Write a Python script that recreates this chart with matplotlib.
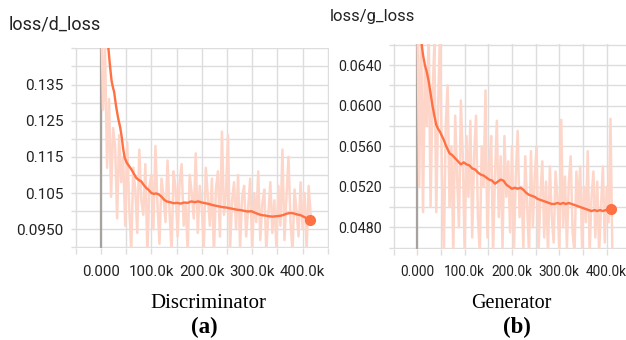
import numpy as np
import matplotlib
matplotlib.use("Agg")
import matplotlib.pyplot as plt
from matplotlib.ticker import FixedLocator, FixedFormatter, NullFormatter

# ---------------- data (steps in thousands) ----------------
raw_step_k = 4  # logging interval (thousand steps)

d_raw = [0.160, 0.128, 0.145, 0.112, 0.131, 0.104, 0.123, 0.118, 0.098, 0.121,
         0.108, 0.115, 0.096, 0.119, 0.101, 0.089, 0.112, 0.106, 0.094, 0.117,
         0.103, 0.099, 0.113, 0.088, 0.107, 0.110, 0.095, 0.118, 0.102, 0.091,
         0.109, 0.104, 0.097, 0.114, 0.100, 0.089, 0.111, 0.106, 0.093, 0.108,
         0.113, 0.096, 0.102, 0.089, 0.110, 0.105, 0.098, 0.116, 0.094, 0.107,
         0.101, 0.090, 0.112, 0.104, 0.096, 0.109, 0.088, 0.106, 0.111, 0.093,
         0.122, 0.099, 0.105, 0.121, 0.089, 0.103, 0.108, 0.095, 0.110, 0.090,
         0.104, 0.107, 0.093, 0.101, 0.109, 0.089, 0.105, 0.097, 0.111, 0.092,
         0.102, 0.106, 0.089, 0.099, 0.108, 0.094, 0.103, 0.090, 0.107, 0.096,
         0.117, 0.092, 0.104, 0.115, 0.097, 0.089, 0.106, 0.100, 0.093, 0.108,
         0.095, 0.105, 0.089, 0.107, 0.099]

d_smooth_x = [12, 15, 18, 21, 24, 26, 30, 34, 38, 41, 44, 47, 51, 55, 60, 65, 70, 75,
              80, 85, 90, 95, 100, 105, 110, 115, 120, 125, 130, 137, 144, 151, 158,
              165, 172, 179, 186, 193, 200, 207, 214, 221, 228, 235, 242, 249, 256,
              263, 270, 277, 284, 291, 298, 305, 312, 319, 326, 333, 340, 347, 354,
              361, 368, 375, 382, 389, 396, 403, 409, 414]
d_smooth_y = [0.1500, 0.1445, 0.1399, 0.1360, 0.1340, 0.1330, 0.1289, 0.1257, 0.1232,
              0.1206, 0.1172, 0.1148, 0.1134, 0.1126, 0.1116, 0.1104, 0.1092, 0.1086,
              0.1082, 0.1072, 0.1064, 0.1058, 0.1050, 0.1048, 0.1049, 0.1046, 0.1040,
              0.1032, 0.1027, 0.1025, 0.1022, 0.1023, 0.1021, 0.1024, 0.1023, 0.1027,
              0.1025, 0.1027, 0.1024, 0.1022, 0.1020, 0.1017, 0.1015, 0.1013, 0.1011,
              0.1010, 0.1008, 0.1006, 0.1004, 0.1003, 0.1001, 0.0999, 0.1000, 0.0996,
              0.0992, 0.0989, 0.0988, 0.0986, 0.0985, 0.0986, 0.0987, 0.0989, 0.0993,
              0.0995, 0.0994, 0.0991, 0.0989, 0.0984, 0.0980, 0.0976]

g_raw = [0.070, 0.052, 0.068, 0.0495, 0.064, 0.058, 0.0675, 0.050, 0.061, 0.066,
         0.0495, 0.060, 0.0675, 0.053, 0.0455, 0.058, 0.062, 0.050, 0.056, 0.0455,
         0.059, 0.053, 0.048, 0.0605, 0.055, 0.0455, 0.057, 0.051, 0.0585, 0.047,
         0.055, 0.059, 0.049, 0.0455, 0.056, 0.052, 0.0615, 0.047, 0.054, 0.057,
         0.0455, 0.053, 0.0585, 0.049, 0.055, 0.046, 0.057, 0.051, 0.0545, 0.0475,
         0.056, 0.0455, 0.053, 0.0575, 0.049, 0.052, 0.046, 0.055, 0.050, 0.0455,
         0.0555, 0.048, 0.053, 0.056, 0.0455, 0.051, 0.0545, 0.047, 0.0525, 0.0455,
         0.054, 0.049, 0.0465, 0.0535, 0.051, 0.0455, 0.0586, 0.048, 0.053, 0.046,
         0.0525, 0.055, 0.0475, 0.0455, 0.0535, 0.050, 0.054, 0.046, 0.052, 0.0485,
         0.0555, 0.0455, 0.051, 0.0535, 0.047, 0.0525, 0.0455, 0.050, 0.054, 0.0465,
         0.052, 0.0485, 0.0587, 0.0455]

g_smooth_x = [8, 12, 16, 20, 24, 28, 32, 36, 40, 44, 48, 52, 56, 60, 64, 68, 74, 80,
              86, 92, 98, 104, 110, 116, 122, 128, 134, 140, 146, 152, 158, 164, 170,
              176, 182, 188, 194, 200, 206, 212, 218, 224, 230, 236, 242, 248, 254,
              260, 266, 272, 278, 284, 290, 296, 302, 308, 314, 320, 326, 332, 338,
              344, 350, 356, 362, 368, 374, 380, 386, 392, 398, 404, 410]
g_smooth_y = [0.0665, 0.0650, 0.0640, 0.0633, 0.0624, 0.0612, 0.0600, 0.0590, 0.0581,
              0.0577, 0.0574, 0.0570, 0.0566, 0.0561, 0.0557, 0.0553, 0.0551, 0.0548,
              0.0545, 0.0542, 0.0544, 0.0542, 0.0541, 0.0538, 0.0537, 0.0534, 0.0532,
              0.0531, 0.0529, 0.0527, 0.0526, 0.0523, 0.0525, 0.0527, 0.0526, 0.0522,
              0.0520, 0.0518, 0.0519, 0.0518, 0.0519, 0.0517, 0.0514, 0.0512, 0.0511,
              0.0510, 0.0508, 0.0507, 0.0506, 0.0505, 0.0504, 0.0503, 0.0503, 0.0504,
              0.0503, 0.0504, 0.0503, 0.0504, 0.0503, 0.0502, 0.0501, 0.0500, 0.0499,
              0.0498, 0.0497, 0.0496, 0.0497, 0.0496, 0.0497, 0.0496, 0.0497, 0.0496,
              0.0498]

x_major = [0, 100, 200, 300, 400]
x_labels = ["0.000", "100.0k", "200.0k", "300.0k", "400.0k"]
x_minor = [-50, 50, 150, 250, 350, 450]

d_major = [0.095, 0.105, 0.115, 0.125, 0.135]
d_labels = ["0.0950", "0.105", "0.115", "0.125", "0.135"]
d_minor = [0.090, 0.100, 0.110, 0.120, 0.130, 0.140, 0.145]

g_major = [0.048, 0.052, 0.056, 0.060, 0.064]
g_labels = ["0.0480", "0.0520", "0.0560", "0.0600", "0.0640"]
g_minor = [0.046, 0.050, 0.054, 0.058, 0.062, 0.066]

# ---------------- style ----------------
LINE = "#ff7043"
RAW = "#fdd6c9"
GRID = "#dddddd"
ZERO = "#a8a29f"
W, H = 626, 340

fig = plt.figure(figsize=(W / 100, H / 100), dpi=100)


def px_rect(l, t, r, b):
    return [l / W, 1 - b / H, (r - l) / W, (b - t) / H]


def draw(ax, raw, sx, sy, ylim, ymaj, ylab, ymin, fs_y, fs_x):
    steps = np.arange(len(raw)) * raw_step_k
    ax.axvline(0, color=ZERO, lw=1.6, zorder=1)
    ax.plot(steps, raw, color=RAW, lw=1.8, zorder=2)
    ax.plot(sx, sy, color=LINE, lw=1.7, zorder=3)
    ax.plot([sx[-1]], [sy[-1]], "o", color=LINE, ms=7, zorder=4)
    ax.set_xlim(-52, 452)
    ax.set_ylim(*ylim)
    for s in ax.spines.values():
        s.set_visible(False)
    ax.xaxis.set_major_locator(FixedLocator(x_major))
    ax.xaxis.set_major_formatter(FixedFormatter(x_labels))
    ax.xaxis.set_minor_locator(FixedLocator(x_minor))
    ax.xaxis.set_minor_formatter(NullFormatter())
    ax.yaxis.set_major_locator(FixedLocator(ymaj))
    ax.yaxis.set_major_formatter(FixedFormatter(ylab))
    ax.yaxis.set_minor_locator(FixedLocator(ymin))
    ax.yaxis.set_minor_formatter(NullFormatter())
    ax.grid(True, which="both", color=GRID, lw=1.0, zorder=0)
    ax.set_axisbelow(True)
    for lab in ax.get_yticklabels():
        lab.set_fontfamily("Roboto")
        lab.set_fontsize(fs_y)
        lab.set_color("#222222")
    for lab in ax.get_xticklabels():
        lab.set_fontfamily("Roboto")
        lab.set_fontsize(fs_x)
        lab.set_color("#222222")
    ax.tick_params(axis="x", which="both", length=4, width=1.0, color=GRID, pad=8)
    ax.tick_params(axis="y", which="both", length=3, width=1.0, color=GRID, pad=5)


ax1 = fig.add_axes(px_rect(74.8, 47.6, 328.8, 248.1))
draw(ax1, d_raw, d_smooth_x, d_smooth_y, (0.0898, 0.1452), d_major, d_labels, d_minor, 11, 10.8)

ax2 = fig.add_axes(px_rect(392.7, 43.7, 631.3, 248.6))
draw(ax2, g_raw, g_smooth_x, g_smooth_y, (0.0459, 0.0661), g_major, g_labels, g_minor, 10.3, 9.8)

# titles
fig.text(8.3 / W, 1 - 29.5 / H, "loss/d_loss", family="Roboto", fontsize=13,
         color="#222222", ha="left", va="baseline")
fig.text(330 / W, 1 - 21 / H, "loss/g_loss", family="Roboto", fontsize=12,
         color="#222222", ha="left", va="baseline")

# captions
fig.text(208 / W, 1 - 308.5 / H, "Discriminator", family="Liberation Serif",
         fontsize=15, ha="center", va="baseline")
fig.text(511 / W, 1 - 307.5 / H, "Generator", family="Liberation Serif",
         fontsize=14.5, ha="center", va="baseline")
fig.text(204 / W, 1 - 327 / H, "(a)", family="Liberation Serif", fontweight="bold",
         fontsize=16.5, ha="center", va="center")
fig.text(517 / W, 1 - 327 / H, "(b)", family="Liberation Serif", fontweight="bold",
         fontsize=16.5, ha="center", va="center")

fig.savefig("out.png", dpi=100)
